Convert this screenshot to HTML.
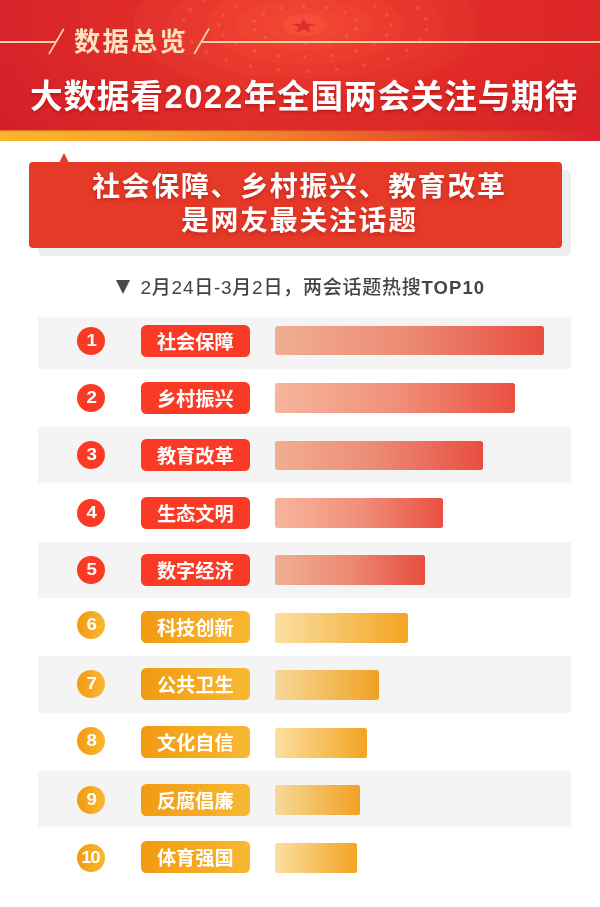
<!DOCTYPE html>
<html lang="zh-CN">
<head>
<meta charset="utf-8">
<title>数据总览</title>
<style>
*{margin:0;padding:0;box-sizing:border-box}
html,body{width:600px;height:907px;background:#fff;overflow:hidden}
body{position:relative;font-family:"Liberation Sans","Noto Sans CJK SC",sans-serif;color:#fff}
.abs{position:absolute}
#hdr{left:0;top:0;width:600px;height:130.3px;overflow:hidden;
 background:linear-gradient(180deg,rgba(190,10,40,0) 0,rgba(190,10,40,0) 45%,rgba(190,10,40,.14) 100%),linear-gradient(90deg,#d7222a 0,#de2929 15%,#e43128 40%,#e22d27 70%,#dc2628 100%);}
#stripe{left:0;top:130px;width:600px;height:10.8px;background:linear-gradient(90deg,#f8b72b 0,#f6a92b 20%,#f0832a 45%,#e6502a 70%,#d8232a 100%)}
#stripe:before{content:"";position:absolute;left:0;top:0;width:100%;height:2px;background:linear-gradient(180deg,rgba(215,35,40,.6),rgba(215,35,40,0))}
.line{height:2px;background:#f8cdaa;top:41px;box-shadow:0 0 1px rgba(170,20,30,.6)}
#t1{left:74px;top:22.5px;font-size:26.3px;line-height:38px;font-weight:700;color:#fbe4bf;letter-spacing:2.2px;white-space:nowrap}
#t2{left:30px;top:74.5px;font-size:32.7px;line-height:44px;font-weight:700;color:#fff;white-space:nowrap;letter-spacing:.75px;text-shadow:0 2px 3px rgba(150,10,10,.45)}
#shadow{left:38px;top:170px;width:533px;height:86px;background:#eceeee;border-radius:5px}
#box{left:29px;top:162px;width:533px;height:86px;background:#e63a29;border-radius:4px}
#tri{left:58.5px;top:152.5px;width:0;height:0;border-left:5.5px solid transparent;border-right:5.5px solid transparent;border-bottom:10px solid #e63a29}
.sub{left:32px;width:533px;text-align:center;font-size:27.8px;line-height:34px;font-weight:700;letter-spacing:1.8px;text-indent:1.8px;white-space:nowrap;text-shadow:0 2px 4px rgba(150,10,0,.42)}
#cap{left:140.5px;top:274px;font-size:19px;line-height:28px;color:#444;font-weight:500;white-space:nowrap;letter-spacing:.75px}
#cap b{font-size:18.5px;font-weight:700;letter-spacing:1.1px}
#capt{left:116px;top:280px;width:0;height:0;border-left:7px solid transparent;border-right:7px solid transparent;border-top:14.5px solid #4a4a4a}
.g{left:38px;width:533px;background:#f4f4f4}
.c{left:77.3px;width:28px;height:28px;border-radius:50%;text-align:center;font-size:17px;line-height:28.5px;font-weight:700}
.c span{display:inline-block;transform:scaleX(1.1)}
.l{left:141px;width:108.5px;height:32px;border-radius:5.5px;text-align:center;font-size:19.2px;line-height:35.2px;font-weight:700;letter-spacing:0;text-indent:0;white-space:nowrap}
.b{left:275px;height:29.8px;border-radius:2.5px}
.r.c,.r.l{background:#fa3a25}
.o.c,.o.l{background:linear-gradient(90deg,#f29a12,#f8b832)}
.r.b{background:linear-gradient(90deg,#f6b69c,#f0907a 50%,#ea5041)}
.r.b.d{background:linear-gradient(90deg,#f0ae93,#ec8a73 50%,#e74d3f)}
.o.b{background:linear-gradient(90deg,#fbdfa0,#f3a423)}
.o.b.d{background:linear-gradient(90deg,#f6d999,#f0a122)}
</style>
</head>
<body>
<div id="hdr" class="abs">
 <svg class="abs" style="left:0;top:0" width="600" height="131" viewBox="0 0 600 131">
  <defs><filter id="bl" x="-5%" y="-5%" width="110%" height="110%"><feGaussianBlur stdDeviation=".7"/></filter></defs>
  <g fill="#ff5a40">
   <ellipse cx="305" cy="25" rx="172" ry="70" opacity=".12"/>
   <ellipse cx="305" cy="25" rx="138" ry="54" opacity=".12"/>
   <ellipse cx="305" cy="25" rx="98" ry="40" opacity=".14"/>
   <ellipse cx="305" cy="25" rx="69" ry="26" opacity=".16"/>
   <ellipse cx="305" cy="25" rx="42" ry="17" opacity=".12"/>
   <ellipse cx="304.5" cy="25" rx="22" ry="11" opacity=".4"/>
  </g>
  <g fill="#ff9a88" opacity=".22" filter="url(#bl)"><circle cx="356.0" cy="28.8" r="1.9"/><circle cx="346.4" cy="36.5" r="1.9"/><circle cx="328.7" cy="41.9" r="1.9"/><circle cx="306.3" cy="44.0" r="1.9"/><circle cx="283.6" cy="42.3" r="1.9"/><circle cx="265.1" cy="37.2" r="1.9"/><circle cx="254.6" cy="29.7" r="1.9"/><circle cx="254.0" cy="21.2" r="1.9"/><circle cx="263.6" cy="13.5" r="1.9"/><circle cx="281.3" cy="8.1" r="1.9"/><circle cx="303.7" cy="6.0" r="1.9"/><circle cx="326.4" cy="7.7" r="1.9"/><circle cx="344.9" cy="12.8" r="1.9"/><circle cx="355.4" cy="20.3" r="1.9"/><circle cx="391.0" cy="25.0" r="1.9"/><circle cx="386.8" cy="34.9" r="1.9"/><circle cx="374.6" cy="43.8" r="1.9"/><circle cx="355.5" cy="50.9" r="1.9"/><circle cx="331.6" cy="55.4" r="1.9"/><circle cx="305.0" cy="57.0" r="1.9"/><circle cx="278.4" cy="55.4" r="1.9"/><circle cx="254.5" cy="50.9" r="1.9"/><circle cx="235.4" cy="43.8" r="1.9"/><circle cx="223.2" cy="34.9" r="1.9"/><circle cx="219.0" cy="25.0" r="1.9"/><circle cx="223.2" cy="15.1" r="1.9"/><circle cx="235.4" cy="6.2" r="1.9"/><circle cx="254.5" cy="-0.9" r="1.9"/><circle cx="355.5" cy="-0.9" r="1.9"/><circle cx="374.6" cy="6.2" r="1.9"/><circle cx="386.8" cy="15.1" r="1.9"/><circle cx="426.4" cy="29.6" r="1.9"/><circle cx="419.9" cy="40.4" r="1.9"/><circle cx="406.8" cy="50.3" r="1.9"/><circle cx="387.8" cy="58.8" r="1.9"/><circle cx="363.9" cy="65.3" r="1.9"/><circle cx="336.7" cy="69.4" r="1.9"/><circle cx="307.5" cy="71.0" r="1.9"/><circle cx="278.3" cy="69.9" r="1.9"/><circle cx="250.6" cy="66.2" r="1.9"/><circle cx="226.0" cy="60.1" r="1.9"/><circle cx="206.1" cy="51.9" r="1.9"/><circle cx="191.9" cy="42.2" r="1.9"/><circle cx="184.2" cy="31.5" r="1.9"/><circle cx="183.6" cy="20.4" r="1.9"/><circle cx="190.1" cy="9.6" r="1.9"/><circle cx="203.2" cy="-0.3" r="1.9"/><circle cx="403.9" cy="-1.9" r="1.9"/><circle cx="418.1" cy="7.8" r="1.9"/><circle cx="425.8" cy="18.5" r="1.9"/></g>
  <polygon fill="#db2a2c" opacity=".9" transform="translate(303.6 26.3) scale(.95 .58)" points="0,-13 3.06,-4.21 12.36,-4.02 4.95,1.61 7.64,10.52 0,5.2 -7.64,10.52 -4.95,1.61 -12.36,-4.02 -3.06,-4.21"/>
 </svg>
 <div class="abs line" style="left:0;width:56px"></div>
 <div class="abs line" style="left:201.5px;width:398.5px"></div>
 <svg class="abs" style="left:48px;top:26px" width="170" height="30" viewBox="48 26 170 30"><path d="M63.8 28.8 L49 54 M209 28.5 L194.2 54" stroke="#f8d0ae" stroke-width="1.7" fill="none"/></svg>
 <div id="t1" class="abs">数据总览</div>
 <div id="t2" class="abs">大数据看<span style="letter-spacing:1.6px;margin-left:.8px">2022</span>年全国两会关注与期待</div>
</div>
<div id="stripe" class="abs"></div>
<div id="shadow" class="abs"></div>
<div id="tri" class="abs"></div>
<div id="box" class="abs"></div>
<div class="abs sub" style="top:169.8px">社会保障、乡村振兴、教育改革</div>
<div class="abs sub" style="top:204px">是网友最关注话题</div>
<div id="capt" class="abs"></div>
<div id="cap" class="abs">2月24日-3月2日，两会话题热搜<b>TOP10</b></div>
<div class="abs g" style="top:316.7px;height:52.3px"></div>
<div class="abs c r" style="top:327.4px"><span>1</span></div><div class="abs l r" style="top:324.9px">社会保障</div><div class="abs b r d" style="top:325.5px;width:269.0px"></div>
<div class="abs c r" style="top:384.4px"><span>2</span></div><div class="abs l r" style="top:382.0px">乡村振兴</div><div class="abs b r" style="top:383.0px;width:240.0px"></div>
<div class="abs g" style="top:427.3px;height:56.2px"></div>
<div class="abs c r" style="top:441.2px"><span>3</span></div><div class="abs l r" style="top:439.4px">教育改革</div><div class="abs b r d" style="top:440.6px;width:208.4px"></div>
<div class="abs c r" style="top:498.5px"><span>4</span></div><div class="abs l r" style="top:497.0px">生态文明</div><div class="abs b r" style="top:498.3px;width:167.5px"></div>
<div class="abs g" style="top:541.5px;height:56.5px"></div>
<div class="abs c r" style="top:555.8px"><span>5</span></div><div class="abs l r" style="top:554.2px">数字经济</div><div class="abs b r d" style="top:555.4px;width:150.0px"></div>
<div class="abs c o" style="top:610.5px"><span>6</span></div><div class="abs l o" style="top:610.9px">科技创新</div><div class="abs b o" style="top:613.2px;width:133.0px"></div>
<div class="abs g" style="top:656.0px;height:56.5px"></div>
<div class="abs c o" style="top:670.2px"><span>7</span></div><div class="abs l o" style="top:668.4px">公共卫生</div><div class="abs b o d" style="top:670.4px;width:103.8px"></div>
<div class="abs c o" style="top:726.8px"><span>8</span></div><div class="abs l o" style="top:725.8px">文化自信</div><div class="abs b o" style="top:728.0px;width:91.7px"></div>
<div class="abs g" style="top:770.7px;height:56.6px"></div>
<div class="abs c o" style="top:785.6px"><span>9</span></div><div class="abs l o" style="top:783.6px">反腐倡廉</div><div class="abs b o d" style="top:785.2px;width:85.3px"></div>
<div class="abs c o" style="top:844.0px"><span style="letter-spacing:-1.2px;margin-left:-1.2px">10</span></div><div class="abs l o" style="top:841.3px">体育强国</div><div class="abs b o" style="top:843.1px;width:81.8px"></div>
</body>
</html>
